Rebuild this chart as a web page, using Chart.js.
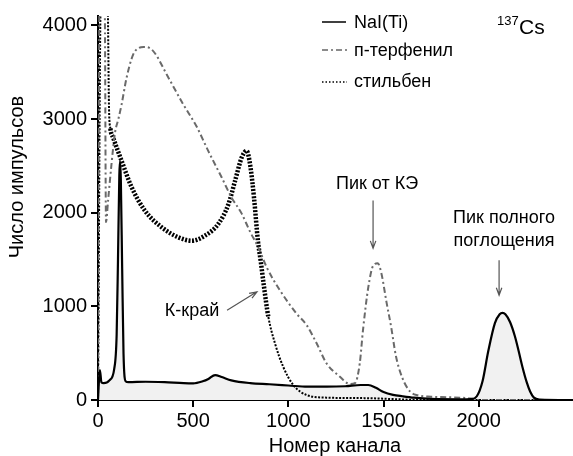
<!DOCTYPE html>
<html>
<head>
<meta charset="utf-8">
<script src="https://cdn.jsdelivr.net/npm/chart.js@4.4.1/dist/chart.umd.min.js"></script>
<style>
  html, body { margin: 0; padding: 0; background: #fff; }
  #wrap { width: 573px; height: 456px; }
</style>
</head>
<body>
<div id="wrap"><canvas id="spectrumChart"></canvas></div>
<script>
// Спектры 137Cs: NaI(Tl), п-терфенил, стильбен

const FONT = '"Liberation Sans", Arial, sans-serif';

const xTicks = [0, 500, 1000, 1500, 2000];
const yTicks = [0, 1000, 2000, 3000, 4000];

const naiChannels = [0, 5, 10, 18, 30, 60, 85, 98, 105, 112, 116, 120, 127, 134, 145, 160, 250, 350, 450, 500,
    550, 580, 615, 650, 700, 800, 900, 1000, 1100, 1200, 1300, 1380, 1420, 1460, 1500, 1550, 1600, 1660, 1750, 1900,
    1960, 1990, 2020, 2050, 2085, 2110, 2125, 2140, 2165, 2190, 2210, 2230, 2252, 2270, 2290, 2320, 2490];
const naiCounts = [0, 200, 320, 190, 180, 210, 330, 700, 1500, 2400, 2550, 2350, 1400, 500, 200, 190, 195, 190, 180, 178,
    200, 225, 266, 245, 210, 180, 168, 155, 142, 142, 147, 160, 160, 130, 85, 55, 40, 25, 12, 8,
    10, 40, 200, 520, 820, 915, 930, 915, 830, 680, 520, 350, 190, 90, 25, 5, 0];

const terphChannels = [0, 8, 35, 42, 53, 70, 89, 107, 124, 150, 185, 215, 240, 270, 300, 361, 448, 518, 579, 650,
    702, 755, 798, 842, 886, 956, 1043, 1096, 1149, 1201, 1271, 1323, 1350, 1375, 1392, 1420, 1446, 1470, 1490, 1515,
    1540, 1565, 1600, 1640, 1680, 1750, 1900, 1960, 2000, 2490];
const terphCounts = [0, 4300, 4300, 1900, 2130, 2500, 2850, 3000, 3156, 3440, 3690, 3760, 3770, 3760, 3700, 3475, 3156, 2920, 2660, 2375,
    2160, 1990, 1800, 1630, 1418, 1170, 922, 800, 603, 390, 248, 170, 180, 390, 745, 1205, 1436, 1460, 1340, 1050,
    780, 470, 230, 90, 50, 35, 25, 15, 0, 0];

const stilbChannels = [0, 15, 50, 58, 65, 80, 124, 177, 247, 334, 422, 492, 562, 632, 685, 720, 755, 781, 800, 820,
    840, 855, 870, 895, 930, 973, 1026, 1096, 1200, 1400, 1550, 1700, 2490];
const stilbCounts = [0, 4300, 4300, 3100, 2900, 2800, 2553, 2270, 2020, 1845, 1737, 1700, 1755, 1880, 2090, 2340, 2590, 2660, 2500, 2150,
    1700, 1480, 1240, 886, 603, 354, 160, 53, 25, 20, 10, 0, 0];

const toPoints = (xs, ys) => xs.map((x, i) => ({ x: x, y: ys[i] }));

const arrow = (ctx, x1, y1, x2, y2) => {
    const a = Math.atan2(y2 - y1, x2 - x1);
    const h = 8;
    ctx.beginPath();
    ctx.moveTo(x1, y1);
    ctx.lineTo(x2, y2);
    ctx.moveTo(x2 - h * Math.cos(a - 0.35), y2 - h * Math.sin(a - 0.35));
    ctx.lineTo(x2, y2);
    ctx.lineTo(x2 - h * Math.cos(a + 0.35), y2 - h * Math.sin(a + 0.35));
    ctx.stroke();
};

const overlay = {
    id: 'overlay',
    afterDraw(chart) {
        const ctx = chart.ctx;
        const xs = chart.scales.x, ys = chart.scales.y;
        const px = v => xs.getPixelForValue(v);
        const py = v => ys.getPixelForValue(v);
        ctx.save();

        // подпись оси Y (смещена вверх, как в оригинале)
        ctx.save();
        ctx.translate(17.5, 177);
        ctx.rotate(-Math.PI / 2);
        ctx.fillStyle = '#000';
        ctx.font = '20px ' + FONT;
        ctx.textAlign = 'center';
        ctx.textBaseline = 'middle';
        ctx.fillText('Число импульсов', 0, 0);
        ctx.restore();

        // подписи и стрелки
        ctx.fillStyle = '#000';
        ctx.font = '18px ' + FONT;
        ctx.textAlign = 'center';
        ctx.textBaseline = 'alphabetic';
        ctx.fillText('Пик от КЭ', px(1466), py(2258));
        ctx.fillText('Пик полного', px(2133), py(1885));
        ctx.fillText('поглощения', px(2133), py(1640));
        ctx.fillText('К-край', px(494), py(895));

        ctx.strokeStyle = '#555';
        ctx.lineWidth = 1.2;
        arrow(ctx, px(1445), py(2130), px(1445), py(1619));
        arrow(ctx, px(2107), py(1491), px(2107), py(1118));
        arrow(ctx, px(678), py(958), px(835), py(1155));

        // легенда
        ctx.textAlign = 'left';
        ctx.font = '18px ' + FONT;
        ctx.fillText('NaI(Ti)', 354, 28);
        ctx.fillText('п-терфенил', 354, 56);
        ctx.fillText('стильбен', 354, 87);

        ctx.strokeStyle = '#000';
        ctx.lineWidth = 1.5;
        ctx.beginPath();
        ctx.moveTo(322, 22); ctx.lineTo(346, 22);
        ctx.stroke();

        ctx.strokeStyle = '#666';
        ctx.setLineDash([6, 3, 2, 3]);
        ctx.beginPath();
        ctx.moveTo(322, 50); ctx.lineTo(347, 50);
        ctx.stroke();

        ctx.strokeStyle = '#000';
        ctx.setLineDash([1.5, 2]);
        ctx.beginPath();
        ctx.moveTo(322, 82); ctx.lineTo(347, 82);
        ctx.stroke();
        ctx.setLineDash([]);

        // 137Cs
        ctx.font = '13px ' + FONT;
        ctx.fillText('137', 497, 25);
        ctx.font = '21px ' + FONT;
        ctx.fillText('Cs', 519, 34);

        ctx.restore();
    }
};

const ctx = document.getElementById('spectrumChart').getContext('2d');

new Chart(ctx, {
    type: 'line',
    data: {
        datasets: [
            {
                label: 'NaI(Ti)',
                data: toPoints(naiChannels, naiCounts),
                borderColor: '#000',
                borderWidth: 2.2,
                backgroundColor: '#f1f1f1',
                fill: 'origin',
                pointRadius: 0,
                cubicInterpolationMode: 'monotone'
            },
            {
                label: 'п-терфенил',
                data: toPoints(terphChannels, terphCounts),
                borderColor: '#6a6a6a',
                borderWidth: 2,
                borderDash: [6, 3, 2, 3],
                fill: false,
                pointRadius: 0,
                cubicInterpolationMode: 'monotone'
            },
            {
                label: 'стильбен',
                data: toPoints(stilbChannels, stilbCounts),
                borderColor: '#000',
                borderWidth: 2,
                borderDash: [2, 1.5],
                fill: false,
                pointRadius: 0,
                cubicInterpolationMode: 'monotone',
                segment: {
                    borderWidth: c => (c.p0.parsed.x > 60 && c.p0.parsed.x < 880 ? 4.5 : 2)
                }
            }
        ]
    },
    options: {
        responsive: true,
        maintainAspectRatio: false,
        animation: false,
        layout: { padding: { top: 15, right: 1, left: 0, bottom: 0 } },
        plugins: {
            legend: { display: false },
            tooltip: { enabled: false },
            filler: { drawTime: 'beforeDatasetsDraw' }
        },
        scales: {
            x: {
                type: 'linear',
                min: 0,
                max: 2490,
                afterFit: s => { s.height = 56; },
                afterBuildTicks: s => { s.ticks = xTicks.map(v => ({ value: v })); },
                border: { display: true, color: '#000', width: 2 },
                grid: { drawOnChartArea: false, drawTicks: true, tickLength: 7, color: '#000', lineWidth: 2 },
                ticks: { color: '#000', font: { family: FONT, size: 20 }, padding: 2, maxRotation: 0,
                    callback: v => String(v) },
                title: { display: true, text: 'Номер канала', color: '#000',
                    font: { family: FONT, size: 20, lineHeight: 1 }, padding: { top: 0, bottom: 0 } }
            },
            y: {
                type: 'linear',
                min: 0,
                max: 4100,
                afterFit: s => { s.width = 98; },
                afterBuildTicks: s => { s.ticks = yTicks.map(v => ({ value: v })); },
                border: { display: true, color: '#000', width: 2 },
                grid: { drawOnChartArea: false, drawTicks: true, tickLength: 7, color: '#000', lineWidth: 2 },
                ticks: { color: '#000', font: { family: FONT, size: 20 }, padding: 4,
                    callback: v => String(v) }
            }
        }
    },
    plugins: [overlay]
});
</script>
</body>
</html>
